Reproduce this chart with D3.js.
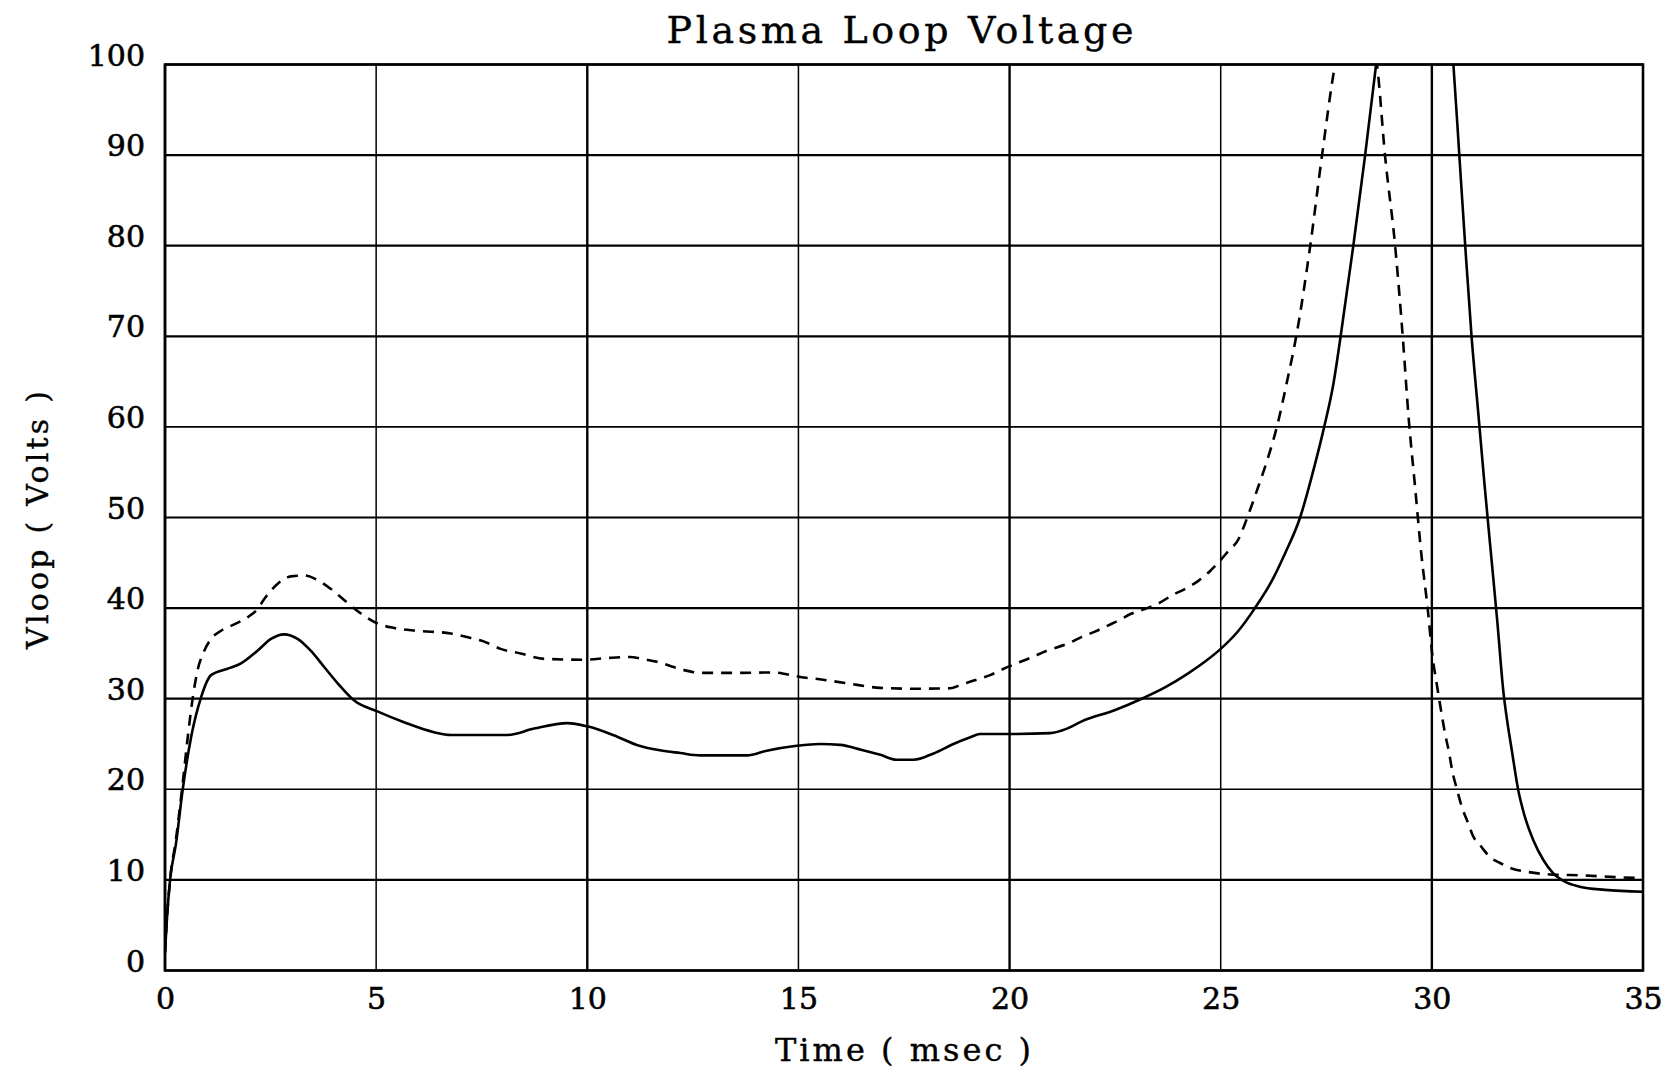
<!DOCTYPE html>
<html>
<head>
<meta charset="utf-8">
<script src="https://cdn.jsdelivr.net/npm/d3@7"></script>
<style>
  html, body { margin: 0; padding: 0; background: #fff; }
  svg { display: block; }
  text { font-family: "DejaVu Serif", "Liberation Serif", serif; fill: #000; }
</style>
</head>
<body>
<svg id="chart" width="1672" height="1072"></svg>
<script>
// ---- data ----
const title = "Plasma Loop Voltage";
const xLabel = "Time ( msec )";
const yLabel = "Vloop ( Volts )";
const xTicks = [0, 5, 10, 15, 20, 25, 30, 35];
const yTicks = [0, 10, 20, 30, 40, 50, 60, 70, 80, 90, 100];

// solid trace: time (ms)
const solidT = [0, 0.05, 0.12, 0.26, 0.42, 0.62, 0.85, 1.09, 1.48, 1.80, 2.19, 2.51, 2.82, 3.14, 3.45, 3.77, 4.09, 4.48,
  5.03, 5.66, 6.37, 6.77, 8.11, 8.74, 9.53, 10.0, 10.71, 11.17, 11.72, 12.2, 12.67, 13.78, 14.25, 14.96, 15.51, 15.99,
  16.46, 16.94, 17.33, 17.73, 18.2, 18.67, 19.07, 19.3, 20.0, 20.96, 21.36, 21.71, 22.5, 23.13, 23.68, 24.23, 24.63,
  25.0, 25.42, 25.81, 26.21, 26.52, 26.88, 27.16, 27.45, 27.67, 27.84, 28.14, 28.42, 28.68, 28.9, 29.5, 30.1,
  30.51, 30.65, 30.79, 30.94, 31.1, 31.25, 31.4, 31.55, 31.7, 31.77, 31.89, 32.05, 32.2, 32.4,
  32.64, 32.87, 33.15, 33.5, 34.1, 35];
// solid trace: voltage (V)
const solidV = [2, 6, 10, 14, 20, 25.8, 30.1, 32.6, 33.3, 33.9, 35.3, 36.6, 37.1, 36.6, 35.3, 33.5, 31.7, 29.8,
  28.6, 27.4, 26.3, 26.0, 26.0, 26.7, 27.3, 26.95, 25.8, 24.9, 24.3, 24.0, 23.74, 23.74, 24.26, 24.8, 25.0, 24.9,
  24.4, 23.8, 23.26, 23.26, 23.96, 25.0, 25.74, 26.1, 26.1, 26.2, 26.7, 27.5, 28.75, 30.0, 31.25, 32.8, 34.1,
  35.5, 37.5, 40, 43.0, 46.0, 50, 54.6, 60, 64.8, 70, 80, 90, 100, 108, 118, 114,
  100, 90, 80, 70, 61.5, 53.5, 46, 38.5, 30.5, 28, 24.4, 19.8, 17, 14.4,
  12.2, 10.75, 9.8, 9.25, 8.9, 8.7];

// dashed trace: time (ms)
const dashedT = [0, 0.05, 0.12, 0.26, 0.42, 0.54, 0.66, 0.77, 0.93, 1.09, 1.33, 1.64, 1.96, 2.19, 2.35, 2.67, 2.98,
  3.30, 3.61, 3.93, 4.24, 4.64, 5.03, 5.43, 5.98, 6.77, 7.24, 7.56, 7.95, 8.42, 8.98, 9.92, 10.5, 11.0, 11.4, 11.72,
  12.04, 12.35, 12.67, 13.54, 14.4, 14.72, 15.04, 15.5, 16.15, 16.94, 17.73, 18.6, 18.83, 19.15, 19.54, 19.86, 20.17,
  20.49, 20.88, 21.39, 21.7, 22.02, 22.34, 22.57, 22.89, 23.2, 23.52, 23.88, 24.15, 24.47, 24.75, 24.94, 25.18, 25.42,
  25.54, 25.66, 25.77, 25.89, 26.1, 26.33, 26.57, 26.8, 27.12, 27.40, 27.71, 28.2, 28.55, 28.7, 28.89,
  29.13, 29.31, 29.45, 29.6, 29.75, 29.9, 30.02, 30.12, 30.2, 30.31, 30.41, 30.48,
  30.6, 30.71, 30.86, 30.97, 31.18, 31.38, 31.6, 31.89, 32.24, 32.8, 33.58, 34.37, 35];
// dashed trace: voltage (V)
const dashedV = [2, 6, 10, 14.5, 20.7, 25.8, 30.2, 33.1, 35.3, 36.6, 37.5, 38.2, 39.0, 39.9, 41.0, 42.7, 43.5,
  43.6, 43.1, 42.1, 40.9, 39.4, 38.3, 37.8, 37.5, 37.2, 36.7, 36.3, 35.5, 35.0, 34.4, 34.3, 34.5, 34.6, 34.3, 34.0,
  33.5, 33.1, 32.85, 32.85, 32.9, 32.7, 32.4, 32.15, 31.7, 31.2, 31.1, 31.15, 31.5, 32.0, 32.6, 33.3, 33.9,
  34.5, 35.3, 36.1, 36.8, 37.4, 38.1, 38.6, 39.4, 39.9, 40.5, 41.5, 42.1, 43.0, 44.1, 45.0, 46.3, 47.6,
  48.9, 50.4, 51.8, 53.4, 56.3, 60, 65, 70.3, 80, 90, 100, 106, 103, 100, 90,
  80, 70, 61, 53.5, 46, 40, 34.5, 31.5, 29.2, 26.2, 24, 22.1,
  19.9, 18.05, 16.25, 14.9, 13.6, 12.5, 11.9, 11.25, 10.9, 10.6, 10.5, 10.3, 10.2];

// ---- layout ----
const L = 165, R = 1643, T = 64.5, B = 970.5;
const svg = d3.select("#chart");
const x = d3.scaleLinear().domain([0, 35]).range([L, R]);
const y = d3.scaleLinear().domain([0, 100]).range([B, T]);

svg.append("rect").attr("width", 1672).attr("height", 1072).attr("fill", "#fff");

svg.append("defs").append("clipPath").attr("id", "plotclip")
  .append("rect").attr("x", L).attr("y", T).attr("width", R - L).attr("height", B - T);

// grid
const grid = svg.append("g");
grid.selectAll("line.h").data(yTicks).join("line")
  .attr("x1", L).attr("x2", R)
  .attr("y1", d => y(d)).attr("y2", d => y(d))
  .attr("stroke", "#000")
  .attr("stroke-width", d => (d === 20 || d === 60) ? 1.6 : 2.2);
grid.selectAll("line.v").data(xTicks).join("line")
  .attr("y1", T).attr("y2", B)
  .attr("x1", d => x(d)).attr("x2", d => x(d))
  .attr("stroke", "#000")
  .attr("stroke-width", d => (d % 10 === 5) ? 1.5 : 2.4);

// frame
svg.append("rect").attr("x", L).attr("y", T).attr("width", R - L).attr("height", B - T)
  .attr("fill", "none").attr("stroke", "#000").attr("stroke-width", 2.6);

// axes (labels only)
const yAxis = svg.append("g").attr("transform", `translate(${L},0)`)
  .call(d3.axisLeft(y).tickValues(yTicks).tickSize(0).tickPadding(20).tickFormat(d3.format("d")));
yAxis.select(".domain").remove();
yAxis.selectAll("text").attr("dy", "0.02em").style("font-size", "30px")
  .style("font-family", "'DejaVu Serif', serif").attr("stroke", "#000").attr("stroke-width", 0.6);

const xAxis = svg.append("g").attr("transform", `translate(0,${B})`)
  .call(d3.axisBottom(x).tickValues(xTicks).tickSize(0).tickPadding(17).tickFormat(d3.format("d")));
xAxis.select(".domain").remove();
xAxis.selectAll("text").attr("dy", "0.71em").style("font-size", "30px")
  .style("font-family", "'DejaVu Serif', serif").attr("stroke", "#000").attr("stroke-width", 0.6);

// series
const solid = solidT.map((t, i) => [t, solidV[i]]);
const dashed = dashedT.map((t, i) => [t, dashedV[i]]);
const line = d3.line().x(d => x(d[0])).y(d => y(d[1])).curve(d3.curveMonotoneX);
const plot = svg.append("g").attr("clip-path", "url(#plotclip)");
plot.append("path").datum(dashed).attr("d", line)
  .attr("fill", "none").attr("stroke", "#000").attr("stroke-width", 2.6)
  .attr("stroke-dasharray", "11,8");
plot.append("path").datum(solid).attr("d", line)
  .attr("fill", "none").attr("stroke", "#000").attr("stroke-width", 2.6);

// titles
svg.append("text").attr("x", 900).attr("y", 43).attr("text-anchor", "middle")
  .attr("textLength", 467).attr("lengthAdjust", "spacing")
  .style("font-size", "38px").attr("stroke", "#000").attr("stroke-width", 0.4).text(title);
svg.append("text").attr("x", 903).attr("y", 1061).attr("text-anchor", "middle")
  .attr("textLength", 256).attr("lengthAdjust", "spacing")
  .style("font-size", "32px").attr("stroke", "#000").attr("stroke-width", 0.4).text(xLabel);
svg.append("text").attr("transform", "translate(48,520) rotate(-90)").attr("text-anchor", "middle")
  .attr("textLength", 258).attr("lengthAdjust", "spacing")
  .style("font-size", "30px").attr("stroke", "#000").attr("stroke-width", 0.4).text(yLabel);
</script>
</body>
</html>
